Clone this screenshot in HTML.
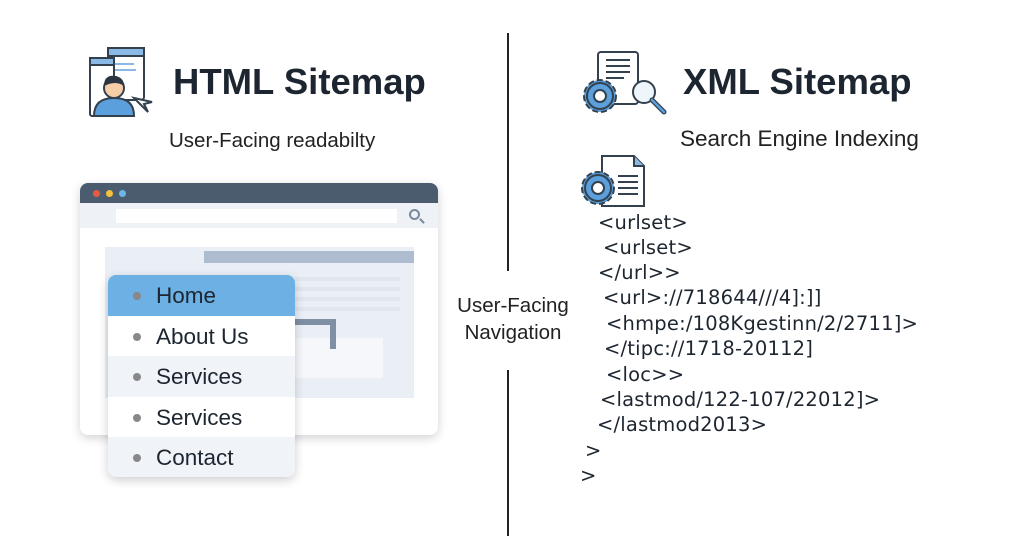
<!DOCTYPE html>
<html><head><meta charset="utf-8"><style>
*{margin:0;padding:0;box-sizing:border-box}
body{width:1024px;height:559px;background:#fff;position:relative;overflow:hidden;font-family:"Liberation Sans",sans-serif;color:#1d2630}
.a{position:absolute}
.t{font-weight:bold;font-size:36.5px;color:#1d2630;white-space:nowrap}
.s{font-size:20.5px;color:#222;white-space:nowrap}
.row{position:absolute;left:0;width:187px;height:40.5px;font-size:22.5px;padding-left:48px;line-height:42px;color:#1d2630}
.row:before{content:"";position:absolute;left:25px;top:17px;width:8px;height:8px;border-radius:50%;background:#888}
.x{position:absolute;font-family:"DejaVu Sans",sans-serif;font-size:19.5px;color:#1d2630;white-space:nowrap;letter-spacing:0.2px}
</style></head><body>

<div class="a" style="left:507px;top:33px;width:2px;height:238px;background:#222"></div>
<div class="a" style="left:507px;top:370px;width:2px;height:166px;background:#222"></div>
<div class="a s" style="left:452px;top:292px;width:122px;text-align:center;line-height:27px">User-Facing<br>Navigation</div>

<svg class="a" style="left:86px;top:46px" width="76" height="76" viewBox="0 0 76 76">
<rect x="22" y="2" width="36" height="52" rx="3" fill="#fff" stroke="#33414f" stroke-width="2"/>
<rect x="22" y="2" width="36" height="8" fill="#8bb9e6" stroke="#33414f" stroke-width="2"/>
<line x1="28" y1="18" x2="48" y2="18" stroke="#8bb9e6" stroke-width="2"/>
<line x1="28" y1="24" x2="50" y2="24" stroke="#8bb9e6" stroke-width="2"/>
<rect x="4" y="12" width="24" height="58" rx="2" fill="#fff" stroke="#33414f" stroke-width="2"/>
<rect x="4" y="12" width="24" height="7" fill="#8bb9e6" stroke="#33414f" stroke-width="2"/>
<path d="M8 70 Q8 52 28 52 Q48 52 48 70 Z" fill="#5b9fdc" stroke="#33414f" stroke-width="2"/>
<circle cx="28" cy="42" r="10" fill="#f6cfa8" stroke="#33414f" stroke-width="2"/>
<path d="M18 40 Q18 28 30 30 Q38 32 38 40 Q30 34 18 40Z" fill="#2b3642"/>
<path d="M48 52 L62 66 L58 58 L66 56 Z" fill="#fff" stroke="#33414f" stroke-width="2"/>
</svg>
<div class="a t" style="left:173px;top:61px">HTML Sitemap</div>
<div class="a s" style="left:169px;top:129px">User-Facing readabilty</div>

<div class="a" style="left:80px;top:183px;width:358px;height:252px;background:#fff;border-radius:8px;box-shadow:0 3px 10px rgba(0,0,0,0.18);overflow:hidden">
 <div class="a" style="left:0;top:0;width:358px;height:20px;background:#4c5c6f"></div>
 <div class="a" style="left:13px;top:7px;width:7px;height:7px;border-radius:50%;background:#e65a45"></div>
 <div class="a" style="left:26px;top:7px;width:7px;height:7px;border-radius:50%;background:#f2c23b"></div>
 <div class="a" style="left:39px;top:7px;width:7px;height:7px;border-radius:50%;background:#6cb6e8"></div>
 <div class="a" style="left:0;top:20px;width:358px;height:25px;background:#eef2f7"></div>
 <div class="a" style="left:36px;top:26px;width:281px;height:14px;background:#fff"></div>
 <div class="a" style="left:329px;top:26px;width:11px;height:11px;border:2px solid #7a8a9c;border-radius:50%"></div>
 <div class="a" style="left:339px;top:37px;width:6px;height:2px;background:#7a8a9c;transform:rotate(45deg)"></div>
 <div class="a" style="left:25px;top:64px;width:309px;height:151px;background:#eaeff6"></div>
 <div class="a" style="left:124px;top:68px;width:210px;height:12px;background:#adbccf"></div>
 <div class="a" style="left:215px;top:94px;width:105px;height:4px;background:#e0e6ee"></div>
 <div class="a" style="left:215px;top:104px;width:105px;height:4px;background:#e0e6ee"></div>
 <div class="a" style="left:215px;top:114px;width:105px;height:4px;background:#e0e6ee"></div>
 <div class="a" style="left:215px;top:124px;width:105px;height:4px;background:#e0e6ee"></div>
 <div class="a" style="left:188px;top:155px;width:115px;height:40px;background:#f5f7fb"></div>
 <div class="a" style="left:170px;top:136px;width:86px;height:30px;border-top:6px solid #7f90a4;border-right:6px solid #7f90a4"></div>
</div>

<div class="a" style="left:108px;top:275px;width:187px;height:202px;background:#fff;border-radius:8px;box-shadow:0 3px 10px rgba(0,0,0,0.2);overflow:hidden">
 <div class="row" style="top:0;background:#6cb0e4">Home</div>
 <div class="row" style="top:40.5px;background:#fff">About Us</div>
 <div class="row" style="top:81px;background:#f0f3f8">Services</div>
 <div class="row" style="top:121.5px;background:#fff">Services</div>
 <div class="row" style="top:162px;background:#f0f3f8">Contact</div>
</div>

<svg class="a" style="left:578px;top:50px" width="95" height="70" viewBox="0 0 95 70">
<rect x="20" y="2" width="40" height="52" rx="3" fill="#fff" stroke="#33414f" stroke-width="2"/>
<line x1="28" y1="10" x2="52" y2="10" stroke="#33414f" stroke-width="2"/>
<line x1="28" y1="16" x2="52" y2="16" stroke="#33414f" stroke-width="2"/>
<line x1="28" y1="22" x2="52" y2="22" stroke="#33414f" stroke-width="2"/>
<line x1="28" y1="28" x2="46" y2="28" stroke="#33414f" stroke-width="2"/>
<circle cx="22" cy="46" r="16" fill="#5b9fdc" stroke="#33414f" stroke-width="2" stroke-dasharray="6 3"/>
<circle cx="22" cy="46" r="13" fill="#5b9fdc" stroke="#33414f" stroke-width="2"/>
<circle cx="22" cy="46" r="6" fill="#fff" stroke="#33414f" stroke-width="2"/>
<circle cx="66" cy="42" r="11" fill="#eef5fb" stroke="#33414f" stroke-width="2"/>
<line x1="74" y1="50" x2="86" y2="62" stroke="#33414f" stroke-width="5" stroke-linecap="round"/>
<line x1="74" y1="50" x2="86" y2="62" stroke="#5b9fdc" stroke-width="2.5" stroke-linecap="round"/>
</svg>
<div class="a t" style="left:683px;top:61px">XML Sitemap</div>
<div class="a s" style="left:680px;top:126px;font-size:22.5px">Search Engine Indexing</div>

<svg class="a" style="left:578px;top:154px" width="70" height="56" viewBox="0 0 70 56">
<path d="M24 2 H56 L66 12 V52 H24 Z" fill="#fff" stroke="#33414f" stroke-width="2"/>
<path d="M56 2 V12 H66" fill="#8bb9e6" stroke="#33414f" stroke-width="2"/>
<line x1="40" y1="22" x2="60" y2="22" stroke="#33414f" stroke-width="2"/>
<line x1="40" y1="28" x2="60" y2="28" stroke="#33414f" stroke-width="2"/>
<line x1="40" y1="34" x2="60" y2="34" stroke="#33414f" stroke-width="2"/>
<line x1="40" y1="40" x2="60" y2="40" stroke="#33414f" stroke-width="2"/>
<circle cx="20" cy="34" r="16" fill="#5b9fdc" stroke="#33414f" stroke-width="2" stroke-dasharray="6 3"/>
<circle cx="20" cy="34" r="13" fill="#5b9fdc" stroke="#33414f" stroke-width="2"/>
<circle cx="20" cy="34" r="6" fill="#fff" stroke="#33414f" stroke-width="2"/>
</svg>

<div class="x" style="left:598px;top:211px">&lt;urlset&gt;</div>
<div class="x" style="left:603px;top:236px">&lt;urlset&gt;</div>
<div class="x" style="left:598px;top:261px">&lt;/url&gt;&gt;</div>
<div class="x" style="left:603px;top:286px">&lt;url&gt;://718644///4]:]]</div>
<div class="x" style="left:606px;top:312px">&lt;hmpe:/108Kgestinn/2/2711]&gt;</div>
<div class="x" style="left:604px;top:337px">&lt;/tipc://1718-20112]</div>
<div class="x" style="left:606px;top:363px">&lt;loc&gt;&gt;</div>
<div class="x" style="left:600px;top:388px">&lt;lastmod/122-107/22012]&gt;</div>
<div class="x" style="left:597px;top:413px">&lt;/lastmod2013&gt;</div>
<div class="x" style="left:585px;top:439px">&gt;</div>
<div class="x" style="left:580px;top:464px">&gt;</div>
</body></html>
